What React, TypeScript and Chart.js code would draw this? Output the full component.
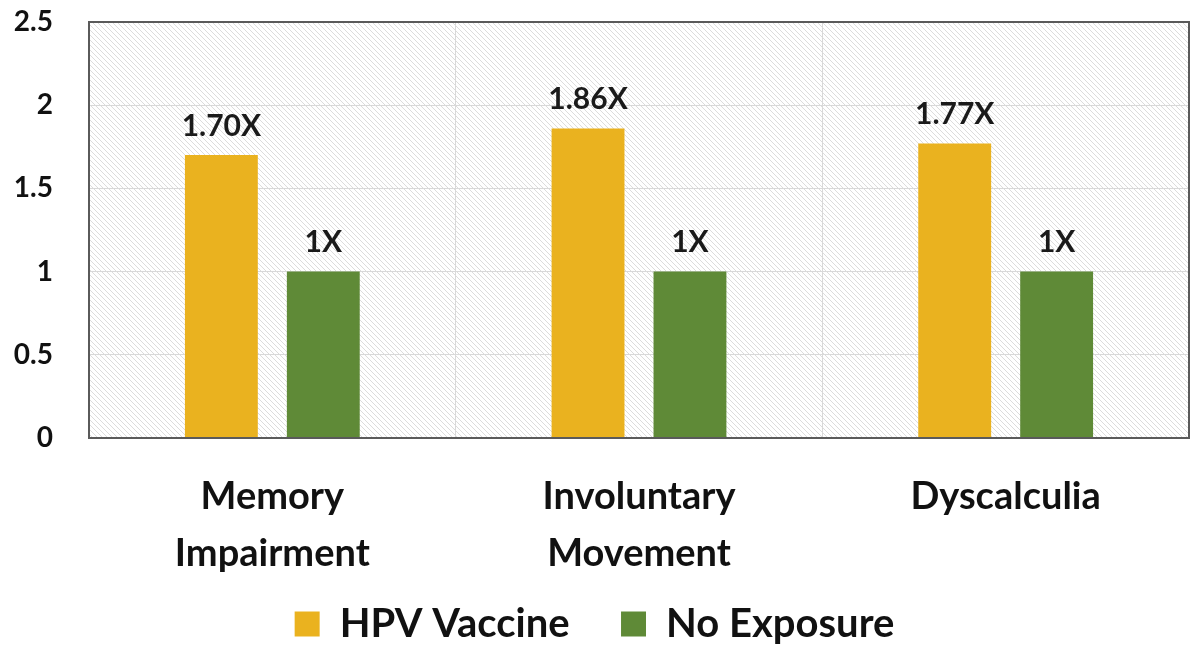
import React, { useEffect, useRef } from "react";
import { Chart, registerables } from "chart.js";

Chart.register(...registerables);

const categories: string[][] = [
  ["Memory", "Impairment"],
  ["Involuntary", "Movement"],
  ["Dyscalculia"],
];
const hpvValues = [1.7, 1.86, 1.77];
const noExposureValues = [1, 1, 1];
const hpvLabels = ["1.70X", "1.86X", "1.77X"];
const noExposureLabels = ["1X", "1X", "1X"];
const seriesNames = ["HPV Vaccine", "No Exposure"];
const yTicks = [0, 0.5, 1, 1.5, 2, 2.5];

const FONT = "Lato, 'Open Sans', sans-serif";

function makePattern(ctx: CanvasRenderingContext2D) {
  const c = document.createElement("canvas");
  const s = 5;
  c.width = s;
  c.height = s;
  const p = c.getContext("2d")!;
  p.fillStyle = "#ffffff";
  p.fillRect(0, 0, s, s);
  p.strokeStyle = "#dcdcdc";
  p.lineWidth = 1;
  p.beginPath();
  p.moveTo(-1, -1);
  p.lineTo(s + 1, s + 1);
  p.moveTo(-1, s - 1);
  p.lineTo(1, s + 1);
  p.moveTo(s - 1, -1);
  p.lineTo(s + 1, 1);
  p.stroke();
  return ctx.createPattern(c, "repeat");
}

const bgPlugin = {
  id: "hatchBg",
  beforeDraw(chart: any) {
    const { ctx, chartArea } = chart;
    ctx.save();
    ctx.fillStyle = makePattern(ctx) as any;
    ctx.fillRect(chartArea.left, chartArea.top, chartArea.right - chartArea.left, chartArea.bottom - chartArea.top);
    ctx.restore();
  },
  afterDatasetsDraw(chart: any) {
    const { ctx, chartArea } = chart;
    ctx.save();
    ctx.strokeStyle = "#5a5a5a";
    ctx.lineWidth = 2;
    ctx.strokeRect(chartArea.left, chartArea.top, chartArea.right - chartArea.left, chartArea.bottom - chartArea.top);
    const labelSets = [hpvLabels, noExposureLabels];
    ctx.fillStyle = "#1a1a1a";
    ctx.font = `bold 30px ${FONT}`;
    ctx.textAlign = "center";
    ctx.textBaseline = "bottom";
    chart.data.datasets.forEach((_: any, di: number) => {
      const meta = chart.getDatasetMeta(di);
      meta.data.forEach((bar: any, i: number) => {
        ctx.fillText(labelSets[di][i], bar.x, bar.y - 14);
      });
    });
    ctx.restore();
  },
};

export default function App() {
  const ref = useRef<HTMLCanvasElement>(null);
  useEffect(() => {
    const chart = new Chart(ref.current!, {
      type: "bar",
      data: {
        labels: categories as any,
        datasets: [
          {
            label: seriesNames[0],
            data: hpvValues,
            backgroundColor: "#EAB21F",
            borderWidth: 0,
            categoryPercentage: 0.556,
            barPercentage: 0.715,
          },
          {
            label: seriesNames[1],
            data: noExposureValues,
            backgroundColor: "#5F8A37",
            borderWidth: 0,
            categoryPercentage: 0.556,
            barPercentage: 0.715,
          },
        ],
      },
      options: {
        animation: false,
        responsive: true,
        maintainAspectRatio: false,
        layout: { padding: { top: 22, right: 3, left: 0, bottom: -4 } },
        plugins: {
          tooltip: { enabled: false },
          legend: {
            position: "bottom",
            labels: {
              color: "#111",
              font: { family: FONT, size: 40, weight: "bold" },
              boxWidth: 25,
              boxHeight: 25,
              padding: 2,
              generateLabels(chart: any) {
                const items = Chart.defaults.plugins.legend.labels.generateLabels(chart);
                return items.map((it: any, i: number) => ({
                  ...it,
                  text: i < items.length - 1 ? it.text + "\u2003  " : it.text,
                  lineWidth: 0,
                }));
              },
            },
          },
        },
        scales: {
          x: {
            grid: { color: "#d9d9d9", drawTicks: false, offset: true },
            border: { display: false },
            ticks: {
              color: "#111",
              font: { family: FONT, size: 38, weight: "bold", lineHeight: 1.5 },
              padding: 30,
              maxRotation: 0,
            },
            afterFit(scale: any) {
              scale.height = 164;
            },
          },
          y: {
            min: 0,
            max: 2.5,
            afterBuildTicks(scale: any) {
              scale.ticks = yTicks.map((v) => ({ value: v }));
            },
            ticks: {
              color: "#111",
              font: { family: FONT, size: 28, weight: "bold" },
              padding: 36,
              callback: (v: any) => String(v),
            },
            grid: { color: "#d9d9d9", drawTicks: false },
            border: { display: false },
            afterFit(scale: any) {
              scale.width = 89;
              scale.paddingTop = 0;
              scale.paddingBottom = 0;
            },
          },
        },
      },
      plugins: [bgPlugin],
    });
    return () => chart.destroy();
  }, []);
  return (
    <div style={{ position: "fixed", left: 0, top: 0, width: 1192, height: 650, background: "#fff" }}>
      <canvas ref={ref} />
    </div>
  );
}
